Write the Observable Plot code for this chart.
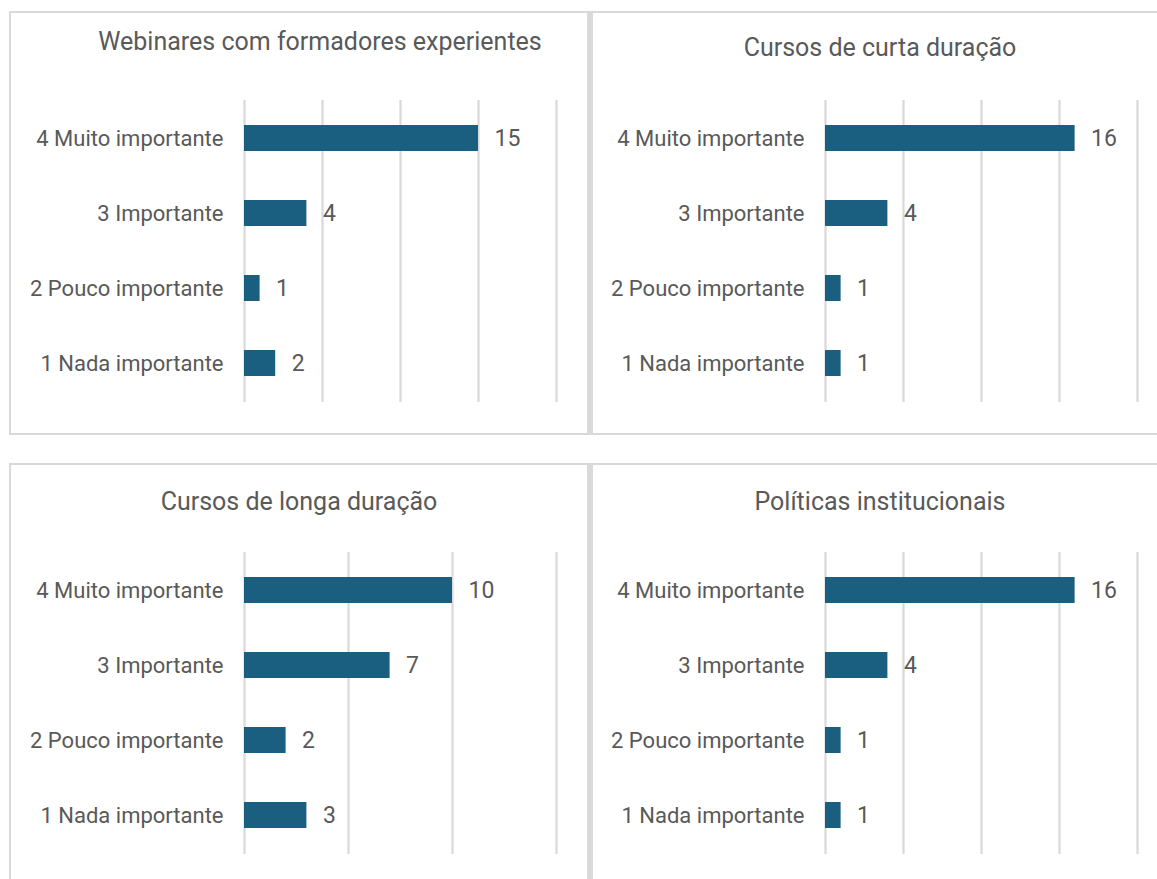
<!DOCTYPE html>
<html>
<head>
<meta charset="utf-8">
<script src="https://cdn.jsdelivr.net/npm/d3@7"></script>
<script src="https://cdn.jsdelivr.net/npm/@observablehq/plot@0.6"></script>
<style>
  html, body { margin: 0; padding: 0; background: #ffffff; }
  body { position: relative; width: 1157px; height: 879px; overflow: hidden; font-family: Roboto, "Liberation Sans", sans-serif; }
  .panel { position: absolute; box-sizing: border-box; border: 2px solid #d9d9d9; background: #ffffff; }
  .chart { position: absolute; }
  .chart svg { display: block; overflow: visible; }
  #titles { position: absolute; left: 0; top: 0; }
</style>
</head>
<body>
<script>
// ---- data ----
const categories = ["4 Muito importante", "3 Importante", "2 Pouco importante", "1 Nada importante"];
const titles = [
  "Webinares com formadores experientes",
  "Cursos de curta duração",
  "Cursos de longa duração",
  "Políticas institucionais"
];
const webinares = [15, 4, 1, 2];
const cursosCurta = [16, 4, 1, 1];
const cursosLonga = [10, 7, 2, 3];
const politicas = [16, 4, 1, 1];
const gridTicksA = [0, 5, 10, 15, 20];
const gridTicksB = [0, 5, 10, 15];

// ---- layout ----
const barColor = "#1a5e80";
const textColor = "#595959";
const gridColor = "#d9d9d9";

const panels = [
  {title: titles[0], values: webinares,  ticks: gridTicksA, box: {left: 9,   top: 11,  width: 580, height: 424, borderLeft: 2}, svg: {left: 9,   top: 11,  width: 578, ml: 235, mr: 31}, titleX: 320, titleY: 50},
  {title: titles[1], values: cursosCurta, ticks: gridTicksA, box: {left: 589, top: 11,  width: 620, height: 424, borderLeft: 4}, svg: {left: 589, top: 11,  width: 568, ml: 236, mr: 20}, titleX: 880, titleY: 56},
  {title: titles[2], values: cursosLonga, ticks: gridTicksB, box: {left: 9,   top: 463, width: 580, height: 480, borderLeft: 2}, svg: {left: 9,   top: 463, width: 578, ml: 235, mr: 31}, titleX: 299, titleY: 510},
  {title: titles[3], values: politicas,  ticks: gridTicksA, box: {left: 589, top: 463, width: 620, height: 480, borderLeft: 4}, svg: {left: 589, top: 463, width: 568, ml: 236, mr: 20}, titleX: 880, titleY: 510}
];

for (const p of panels) {
  const box = document.createElement("div");
  box.className = "panel";
  Object.assign(box.style, {
    left: p.box.left + "px", top: p.box.top + "px",
    width: p.box.width + "px", height: p.box.height + "px",
    borderLeftWidth: p.box.borderLeft + "px"
  });
  document.body.appendChild(box);
}

for (const p of panels) {
  const data = categories.map((c, i) => ({category: c, value: p.values[i]}));
  const xMax = p.ticks[p.ticks.length - 1];
  const chart = Plot.plot({
    width: p.svg.width,
    height: 422,
    marginLeft: p.svg.ml,
    marginRight: p.svg.mr,
    marginTop: 89,
    marginBottom: 31,
    style: {fontFamily: "Roboto, 'Liberation Sans', sans-serif", fontSize: "22px", color: textColor, background: "transparent"},
    x: {domain: [0, xMax], axis: null},
    y: {domain: categories, paddingInner: 0.65, paddingOuter: 0.325, label: null},
    marks: [
      Plot.ruleX(p.ticks, {stroke: gridColor, strokeWidth: 2.2}),
      Plot.barX(data, {x: "value", y: "category", fill: barColor}),
      Plot.text(data, {x: "value", y: "category", text: d => String(d.value), textAnchor: "start", dx: 16, fontSize: 23, fill: textColor}),
      Plot.axisY({tickSize: 0, tickPadding: 21, fontSize: 22, label: null})
    ]
  });
  const wrap = document.createElement("div");
  wrap.className = "chart";
  wrap.style.left = p.svg.left + "px";
  wrap.style.top = p.svg.top + "px";
  wrap.appendChild(chart);
  document.body.appendChild(wrap);
}

// titles overlay
const NS = "http://www.w3.org/2000/svg";
const tsvg = document.createElementNS(NS, "svg");
tsvg.setAttribute("id", "titles");
tsvg.setAttribute("width", 1157);
tsvg.setAttribute("height", 879);
for (const p of panels) {
  const t = document.createElementNS(NS, "text");
  t.setAttribute("x", p.titleX);
  t.setAttribute("y", p.titleY);
  t.setAttribute("text-anchor", "middle");
  t.setAttribute("font-family", "Roboto, 'Liberation Sans', sans-serif");
  t.setAttribute("font-size", "25");
  t.setAttribute("fill", textColor);
  t.textContent = p.title;
  tsvg.appendChild(t);
}
document.body.appendChild(tsvg);
</script>
</body>
</html>
